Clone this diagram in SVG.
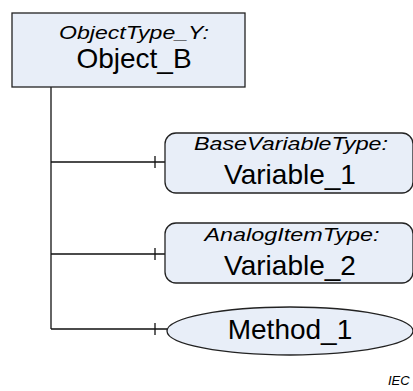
<svg xmlns="http://www.w3.org/2000/svg" width="413" height="391" viewBox="0 0 413 391">
<style>
.node{fill:#E8EEF8;stroke:#222;stroke-width:1.3}
.conn{fill:none;stroke:#111;stroke-width:1.3}
.type{font-family:"Liberation Sans",Arial,sans-serif;font-style:italic;font-size:19px;fill:#000}
.name{font-family:"Liberation Sans",Arial,sans-serif;font-size:28px;fill:#000}
.note{font-family:"Liberation Sans",Arial,sans-serif;font-style:italic;font-size:13px;fill:#000}
</style>
<g id="connectors">
<path class="conn" d="M51,87 V329"/>
<path class="conn" d="M51,162 H165 M155,156 V168"/>
<path class="conn" d="M51,254 H165 M155,248 V260"/>
<path class="conn" d="M51,329 H167 M155,323 V335"/>
</g>
<g id="Object_B">
<rect class="node" x="12" y="13" width="233" height="74"/>
<text class="type" x="134" y="39" text-anchor="middle" textLength="150" lengthAdjust="spacingAndGlyphs">ObjectType_Y:</text>
<text class="name" x="134" y="68" text-anchor="middle">Object_B</text>
</g>
<g id="Variable_1">
<rect class="node" x="165" y="133" width="248" height="60" rx="11" ry="11"/>
<text class="type" x="291" y="150" text-anchor="middle" textLength="194" lengthAdjust="spacingAndGlyphs">BaseVariableType:</text>
<text class="name" x="290" y="184" text-anchor="middle">Variable_1</text>
</g>
<g id="Variable_2">
<rect class="node" x="165" y="223" width="248" height="60" rx="11" ry="11"/>
<text class="type" x="292" y="241" text-anchor="middle" textLength="175" lengthAdjust="spacingAndGlyphs">AnalogItemType:</text>
<text class="name" x="290" y="275" text-anchor="middle">Variable_2</text>
</g>
<g id="Method_1">
<ellipse class="node" cx="290" cy="331" rx="123" ry="24"/>
<text class="name" x="290" y="339" text-anchor="middle">Method_1</text>
</g>
<text class="note" x="388" y="385">IEC</text>
</svg>
